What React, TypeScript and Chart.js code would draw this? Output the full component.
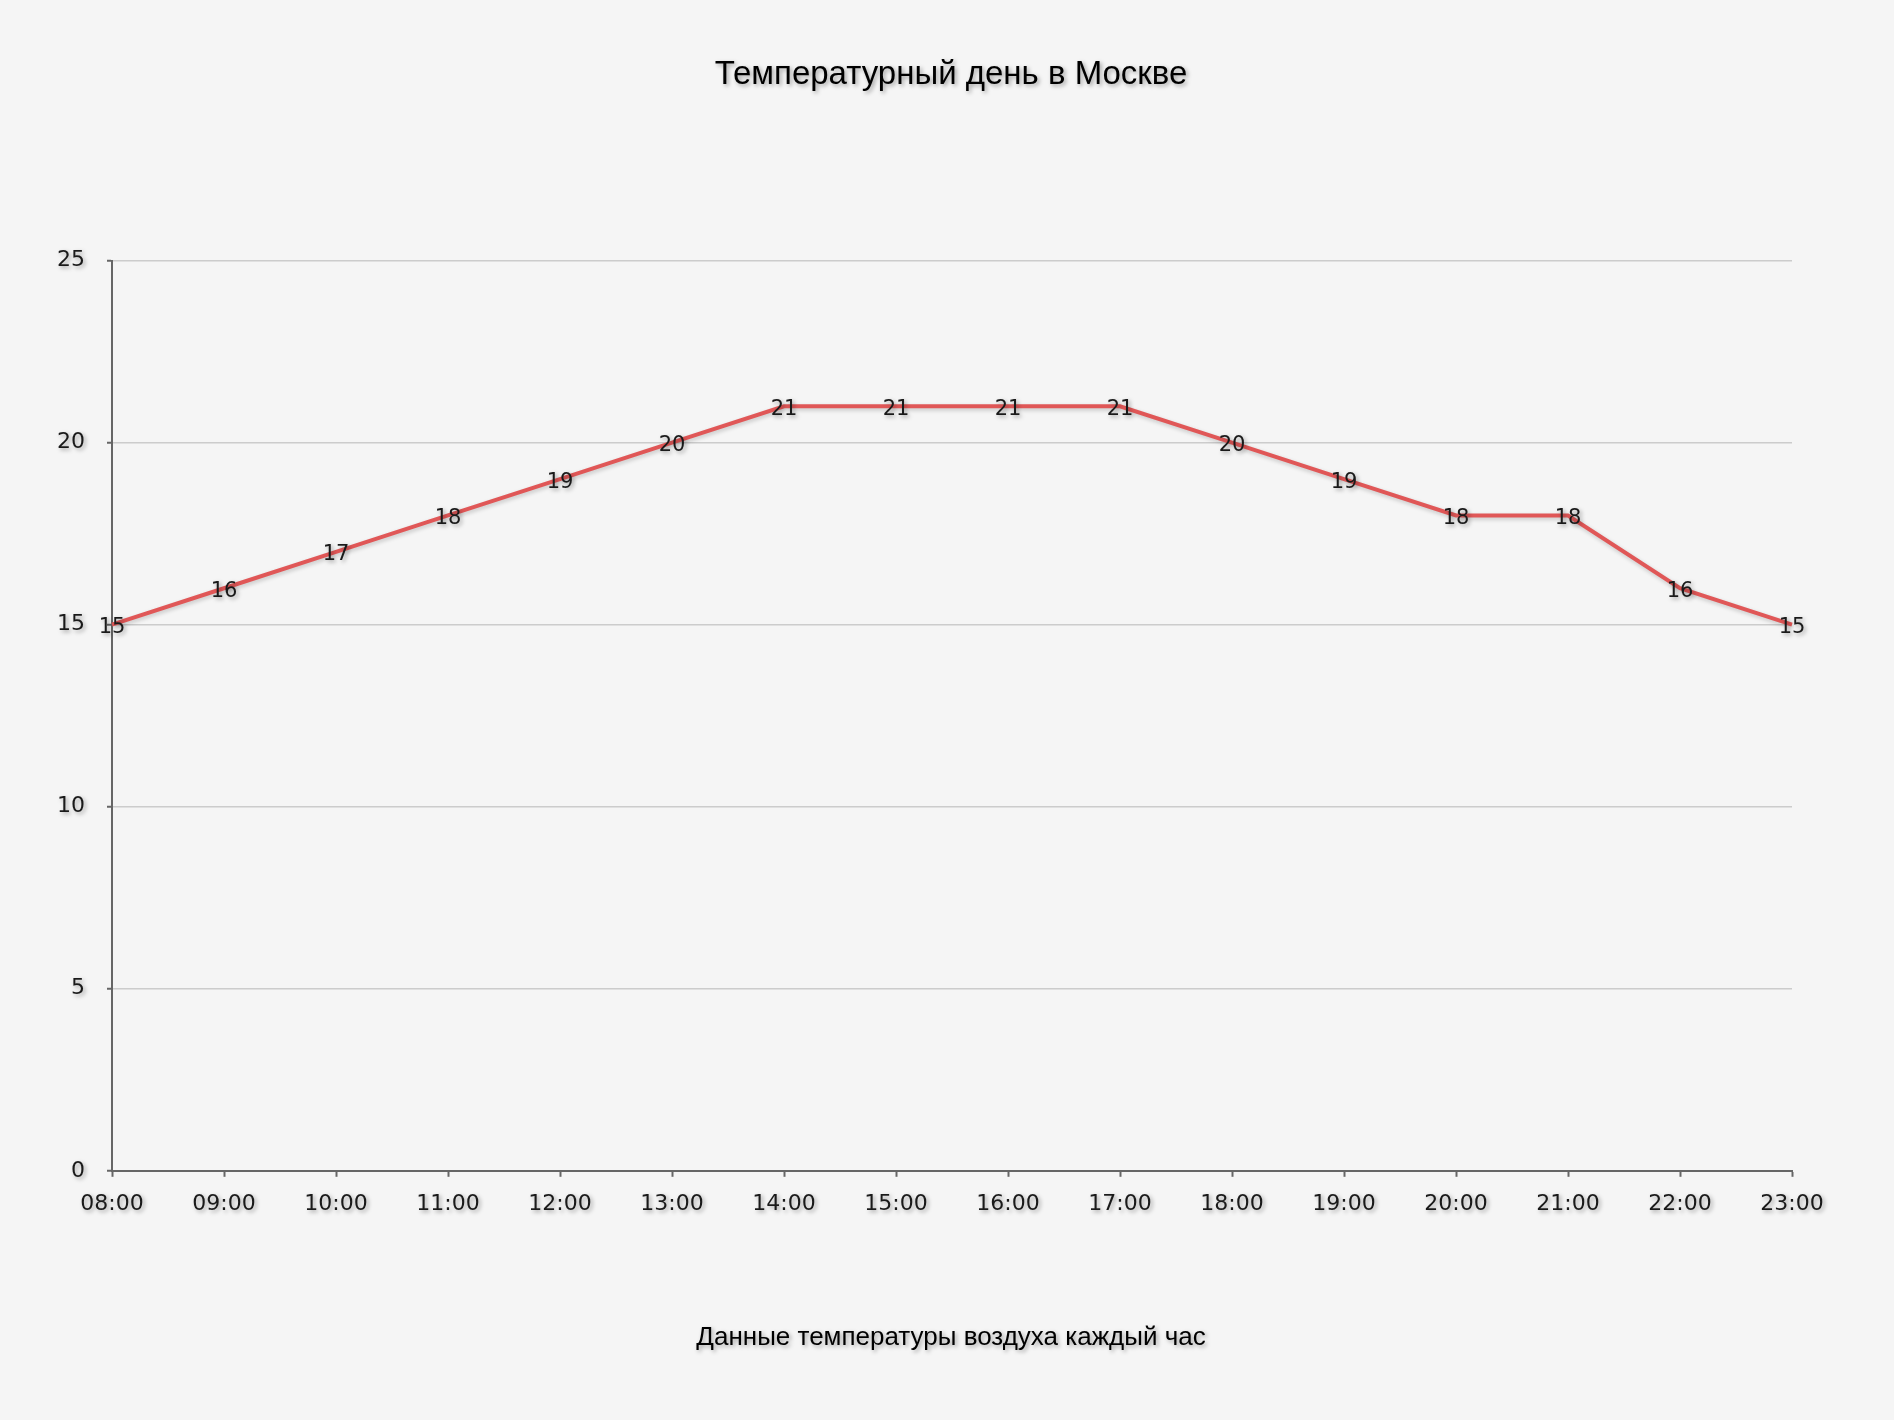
import React, { useEffect, useRef } from "react";
import { Chart, registerables } from "chart.js";

Chart.register(...registerables);

const hours = ["08:00", "09:00", "10:00", "11:00", "12:00", "13:00", "14:00", "15:00", "16:00", "17:00", "18:00", "19:00", "20:00", "21:00", "22:00", "23:00"];
const temperatures = [15, 16, 17, 18, 19, 20, 21, 21, 21, 21, 20, 19, 18, 18, 16, 15];
const yTicks = [0, 5, 10, 15, 20, 25];
const titleText = "Температурный день в Москве";
const footerText = "Данные температуры воздуха каждый час";

const SHADOW = "rgba(0,0,0,0.35)";
const TICK_FONT = "'DejaVu Sans', sans-serif";

const textShadowPlugin = {
  id: "textShadow",
  beforeDraw(chart: any) {
    const ctx = chart.ctx as any;
    if (!ctx.__patched) {
      const orig = ctx.fillText.bind(ctx);
      ctx.fillText = (...args: any[]) => {
        ctx.save();
        ctx.shadowColor = SHADOW;
        ctx.shadowBlur = 4;
        ctx.shadowOffsetX = 2;
        ctx.shadowOffsetY = 2;
        orig(...args);
        ctx.restore();
      };
      ctx.__patched = true;
    }
  },
  beforeDatasetDraw(chart: any) {
    const ctx = chart.ctx;
    ctx.save();
    ctx.shadowColor = "rgba(0,0,0,0.2)";
    ctx.shadowBlur = 4;
    ctx.shadowOffsetX = 1;
    ctx.shadowOffsetY = 2;
  },
  afterDatasetDraw(chart: any) {
    chart.ctx.restore();
  },
};

const dataLabelPlugin = {
  id: "dataLabels",
  afterDatasetsDraw(chart: any) {
    const ctx = chart.ctx;
    const meta = chart.getDatasetMeta(0);
    const data = chart.data.datasets[0].data as number[];
    ctx.save();
    ctx.font = `21px ${TICK_FONT}`;
    ctx.fillStyle = "#1a1a1a";
    ctx.textAlign = "center";
    ctx.textBaseline = "middle";
    meta.data.forEach((pt: any, i: number) => {
      ctx.fillText(String(data[i]), pt.x, pt.y + 3);
    });
    ctx.restore();
  },
};

export default function App() {
  const ref = useRef<HTMLCanvasElement | null>(null);

  useEffect(() => {
    document.body.style.margin = "0";
    document.body.style.background = "#f5f5f5";
    const canvas = ref.current!;
    const chart = new Chart(canvas, {
      type: "line",
      data: {
        labels: hours,
        datasets: [
          {
            data: temperatures,
            borderColor: "#e05757",
            borderWidth: 4,
            pointRadius: 0,
            tension: 0,
            fill: false,
          },
        ],
      },
      options: {
        animation: false,
        responsive: false,
        maintainAspectRatio: false,
        layout: { padding: { left: 55, right: 47, top: 0, bottom: 0 } },
        plugins: {
          legend: { display: false },
          tooltip: { enabled: false },
          title: {
            display: true,
            text: titleText,
            color: "#000",
            font: { family: "'Liberation Sans', Arial, sans-serif", size: 33, weight: "normal" },
            padding: { top: 55, bottom: 166 },
          },
          subtitle: {
            display: true,
            position: "bottom",
            text: footerText,
            color: "#000",
            font: { family: "'Liberation Sans', Arial, sans-serif", size: 26, weight: "normal" },
            padding: { top: 91, bottom: 67 },
          },
        },
        scales: {
          x: {
            offset: false,
            grid: {
              drawOnChartArea: false,
              drawTicks: true,
              tickLength: 6,
              tickColor: "#666",
              tickWidth: 2,
            },
            border: { display: true, color: "#666", width: 2 },
            ticks: {
              color: "#1a1a1a",
              font: { family: TICK_FONT, size: 22 },
              padding: 14,
              maxRotation: 0,
              autoSkip: false,
            },
            afterFit(scale: any) {
              scale.height = 60;
            },
          },
          y: {
            min: 0,
            max: 25,
            afterBuildTicks(scale: any) {
              scale.ticks = yTicks.map((v) => ({ value: v }));
            },
            grid: {
              color: "#cccccc",
              lineWidth: 1.5,
              drawTicks: true,
              tickLength: 5,
              tickColor: "#666",
              tickWidth: 2,
            },
            border: { display: true, color: "#666", width: 2 },
            ticks: {
              color: "#1a1a1a",
              font: { family: TICK_FONT, size: 22 },
              padding: 22,
            },
            afterFit(scale: any) {
              scale.width = 57;
            },
          },
          yRight: {
            position: "right",
            min: 0,
            max: 25,
            grid: { display: false, drawOnChartArea: false },
            border: { display: false },
            ticks: { display: false },
            afterFit(scale: any) {
              scale.width = 55;
            },
          },
        },
      },
      plugins: [textShadowPlugin, dataLabelPlugin],
    });
    return () => chart.destroy();
  }, []);

  return (
    <div style={{ width: 1894, height: 1420, background: "#f5f5f5" }}>
      <canvas ref={ref} width={1894} height={1420} style={{ display: "block", width: 1894, height: 1420 }} />
    </div>
  );
}
